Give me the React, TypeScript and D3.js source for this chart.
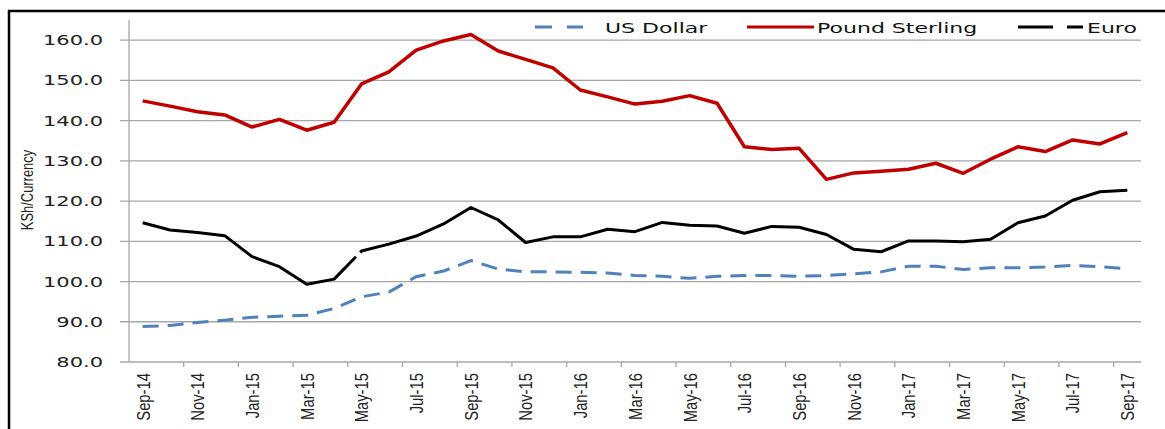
import React, { useEffect, useRef } from 'react'
import * as d3 from 'd3'

const months = [
  'Sep-14', 'Oct-14', 'Nov-14', 'Dec-14', 'Jan-15', 'Feb-15', 'Mar-15', 'Apr-15', 'May-15', 'Jun-15',
  'Jul-15', 'Aug-15', 'Sep-15', 'Oct-15', 'Nov-15', 'Dec-15', 'Jan-16', 'Feb-16', 'Mar-16', 'Apr-16',
  'May-16', 'Jun-16', 'Jul-16', 'Aug-16', 'Sep-16', 'Oct-16', 'Nov-16', 'Dec-16', 'Jan-17', 'Feb-17',
  'Mar-17', 'Apr-17', 'May-17', 'Jun-17', 'Jul-17', 'Aug-17', 'Sep-17'
]

const usDollar = [
  88.8, 89.1, 89.8, 90.4, 91.1, 91.4, 91.6, 93.3, 96.2, 97.4,
  101.2, 102.6, 105.2, 103.1, 102.4, 102.4, 102.3, 102.1, 101.5, 101.3,
  100.8, 101.3, 101.5, 101.5, 101.3, 101.5, 101.9, 102.4, 103.8, 103.8,
  103.0, 103.4, 103.4, 103.6, 104.0, 103.7, 103.2
]

const poundSterling = [
  144.9, 143.6, 142.2, 141.4, 138.4, 140.3, 137.6, 139.6, 149.1, 152.1,
  157.5, 159.8, 161.4, 157.3, 155.2, 153.1, 147.6, 145.9, 144.1, 144.8,
  146.2, 144.3, 133.5, 132.8, 133.1, 125.4, 127.0, 127.4, 127.9, 129.4,
  126.9, 130.4, 133.5, 132.3, 135.2, 134.2, 137.0
]

const euro = [
  114.6, 112.8, 112.2, 111.4, 106.2, 103.7, 99.3, 100.6, 107.6, 109.3,
  111.3, 114.3, 118.4, 115.3, 109.7, 111.1, 111.1, 113.0, 112.4, 114.7,
  114.0, 113.8, 112.0, 113.7, 113.5, 111.7, 108.0, 107.4, 110.1, 110.1,
  109.9, 110.5, 114.6, 116.3, 120.2, 122.3, 122.7
]

const yTicks = [80, 90, 100, 110, 120, 130, 140, 150, 160]

const App = () => {
  const ref = useRef<SVGSVGElement | null>(null)

  useEffect(() => {
    document.body.style.margin = '0'
    const svg = d3.select(ref.current)
    svg.selectAll('*').remove()

    const left = 129, right = 1141, top = 20, bottom = 362
    const x = d3.scaleBand().domain(months).range([left, right]).padding(0)
    const y = d3.scaleLinear().domain([80, 165]).range([bottom, top])
    const cx = (m: string) => (x(m) as number) + x.bandwidth() / 2
    const grid = '#a6a6a6'
    const numFont = 'DejaVu Sans, Verdana, sans-serif'
    const narrow = 'Liberation Sans, Arial, sans-serif'

    // outer frame
    svg.append('rect')
      .attr('x', 9).attr('y', 11).attr('width', 1170).attr('height', 430)
      .attr('fill', 'none').attr('stroke', '#000').attr('stroke-width', 2.5)

    // gridlines + y ticks
    const yg = svg.append('g')
    yTicks.forEach(t => {
      yg.append('line')
        .attr('x1', left - 9).attr('x2', right)
        .attr('y1', y(t)).attr('y2', y(t))
        .attr('stroke', grid).attr('stroke-width', 1.3)
      yg.append('text')
        .attr('transform', `translate(103,${y(t)}) scale(1.5,1)`)
        .attr('text-anchor', 'end').attr('dy', '0.36em')
        .attr('font-family', numFont).attr('font-size', 14)
        .attr('fill', '#222')
        .text(t.toFixed(1))
    })
    // y axis line
    svg.append('line')
      .attr('x1', left).attr('x2', left).attr('y1', top).attr('y2', bottom)
      .attr('stroke', grid).attr('stroke-width', 1.3)

    // x ticks + labels
    const xg = svg.append('g')
    months.forEach((m, i) => {
      if (i % 2 === 0 && i > 0) {
        xg.append('line')
          .attr('x1', x(m) as number).attr('x2', x(m) as number)
          .attr('y1', bottom).attr('y2', bottom + 5)
          .attr('stroke', grid).attr('stroke-width', 1.3)
      }
      if (i % 2 === 0) {
        xg.append('text')
          .attr('transform', `translate(${cx(m)},373) rotate(-90) scale(0.78,1)`)
          .attr('text-anchor', 'end').attr('dy', '0.36em')
          .attr('font-family', narrow).attr('font-size', 19)
          .attr('fill', '#222')
          .text(m)
      }
    })

    // axis title
    svg.append('text')
      .attr('transform', 'translate(27,190) rotate(-90) scale(0.76,1)')
      .attr('text-anchor', 'middle').attr('dy', '0.35em')
      .attr('font-family', narrow).attr('font-size', 17)
      .attr('fill', '#222')
      .text('KSh/Currency')

    const line = d3.line<number>()
      .x((d, i) => cx(months[i]))
      .y(d => y(d))

    svg.append('path')
      .attr('d', line(usDollar))
      .attr('fill', 'none').attr('stroke', '#4F81BD').attr('stroke-width', 3)
      .attr('stroke-dasharray', '16 9')

    svg.append('path')
      .attr('d', line(poundSterling))
      .attr('fill', 'none').attr('stroke', '#C00000').attr('stroke-width', 3.5)
      .attr('stroke-linejoin', 'round')

    // euro: long dash pattern leaves a small gap just before May-15
    const euroPath = svg.append('path')
      .attr('d', line(euro))
      .attr('fill', 'none').attr('stroke', '#000').attr('stroke-width', 3)
      .attr('stroke-linejoin', 'round')
    const tmp = svg.append('path').attr('d', line(euro.slice(0, 9)))
    const lenA = (tmp.node() as SVGPathElement).getTotalLength()
    tmp.remove()
    const total = (euroPath.node() as SVGPathElement).getTotalLength()
    euroPath.attr('stroke-dasharray', `${lenA - 8} 6 ${total}`)

    // legend
    const lg = svg.append('g')
    const ly = 27
    lg.append('line').attr('x1', 535).attr('x2', 552).attr('y1', ly).attr('y2', ly)
      .attr('stroke', '#4F81BD').attr('stroke-width', 3)
    lg.append('line').attr('x1', 567).attr('x2', 583).attr('y1', ly).attr('y2', ly)
      .attr('stroke', '#4F81BD').attr('stroke-width', 3)
    lg.append('line').attr('x1', 747).attr('x2', 814).attr('y1', ly).attr('y2', ly)
      .attr('stroke', '#C00000').attr('stroke-width', 3)
    lg.append('line').attr('x1', 1018).attr('x2', 1053).attr('y1', ly).attr('y2', ly)
      .attr('stroke', '#000').attr('stroke-width', 3)
    lg.append('line').attr('x1', 1067).attr('x2', 1083).attr('y1', ly).attr('y2', ly)
      .attr('stroke', '#000').attr('stroke-width', 3)
    const legText = [['US Dollar', 605], ['Pound Sterling', 817], ['Euro', 1087]] as const
    legText.forEach(([t, lx]) => {
      lg.append('text')
        .attr('transform', `translate(${lx},32.5) scale(1.52,1)`)
        .attr('font-family', numFont).attr('font-size', 14.5)
        .attr('fill', '#111')
        .text(t)
    })
  }, [])

  return <svg ref={ref} width={1165} height={429} style={{ display: 'block' }} />
}

export default App
